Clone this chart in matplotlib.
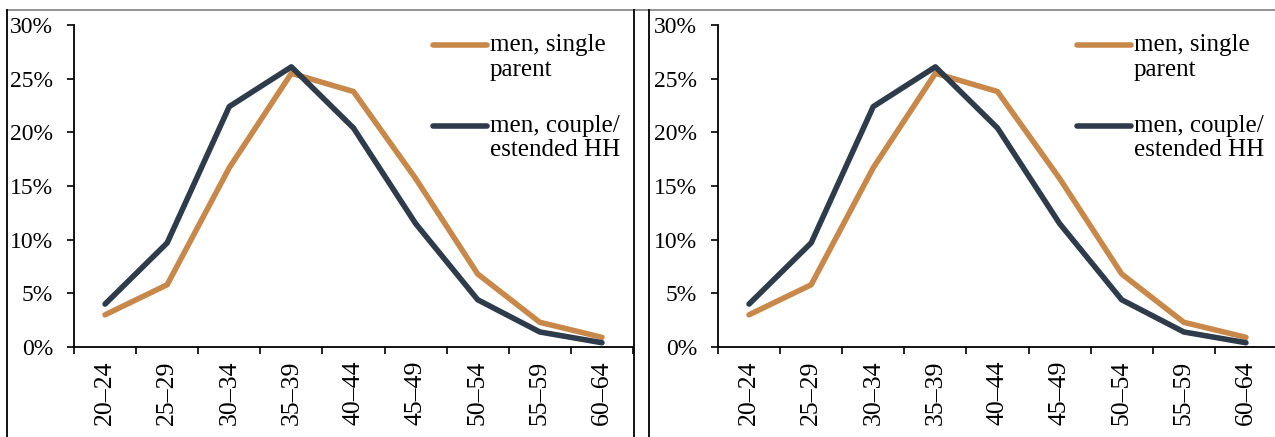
import matplotlib.pyplot as plt
from matplotlib.lines import Line2D
from matplotlib.ticker import FuncFormatter, FixedLocator, FixedFormatter

plt.rcParams['font.family'] = ['Liberation Serif', 'DejaVu Serif']

# --- Data (share of men by age group, %) ---
age_groups = ['20–24', '25–29', '30–34', '35–39', '40–44',
              '45–49', '50–54', '55–59', '60–64']
single_parent = [3.0, 5.8, 16.7, 25.5, 23.8, 15.7, 6.8, 2.3, 0.9]
couple_ext = [4.0, 9.7, 22.4, 26.1, 20.4, 11.5, 4.4, 1.4, 0.4]
label_single = 'men, single\nparent'
label_couple = 'men, couple/\nestended HH'

c_orange = '#C8884A'
c_dark = '#2D3B4B'

W, H = 1275, 437
fig = plt.figure(figsize=(W / 100, H / 100), dpi=100)

def px_rect(x0, x1, y_top, y_bot):
    return [x0 / W, 1 - y_bot / H, (x1 - x0) / W, (y_bot - y_top) / H]

def draw_panel(ax):
    x = list(range(len(age_groups)))
    ax.plot(x, single_parent, color=c_orange, lw=4, solid_capstyle='round')
    ax.plot(x, couple_ext, color=c_dark, lw=4, solid_capstyle='round')
    ax.set_xlim(-0.5, len(age_groups) - 0.5)
    ax.set_ylim(0, 30)
    ax.set_yticks(range(0, 31, 5))
    ax.yaxis.set_major_formatter(FuncFormatter(lambda v, p: f'{v:.0f}%'))
    # ticks between categories, labels at category centres
    ax.xaxis.set_major_locator(FixedLocator([i - 0.5 for i in range(len(age_groups) + 1)]))
    ax.xaxis.set_major_formatter(FuncFormatter(lambda v, p: ''))
    ax.xaxis.set_minor_locator(FixedLocator(x))
    ax.xaxis.set_minor_formatter(FixedFormatter(age_groups))
    ax.tick_params(axis='x', which='major', length=5, width=1.2, direction='out')
    ax.tick_params(axis='x', which='minor', length=0, pad=10,
                   labelsize=18.5, labelrotation=90)
    ax.tick_params(axis='y', length=5, width=1.2, direction='out', pad=10, labelsize=17)
    for s in ['top', 'right']:
        ax.spines[s].set_visible(False)
    for s in ['left', 'bottom']:
        ax.spines[s].set_linewidth(1.3)

    # legend, drawn by hand so the handle sits on the first text line
    for lab, col, yh, yt in [(label_single, c_orange, 0.938, 0.972),
                             (label_couple, c_dark, 0.686, 0.722)]:
        ax.add_line(Line2D([0.642, 0.739], [yh, yh], transform=ax.transAxes,
                           color=col, lw=4, solid_capstyle='round', clip_on=False))
        ax.text(0.744, yt, lab, transform=ax.transAxes, fontsize=18,
                va='top', ha='left', linespacing=1.15)

ax1 = fig.add_axes(px_rect(74, 633, 25, 347))
ax2 = fig.add_axes(px_rect(718, 1277, 25, 347))
draw_panel(ax1)
draw_panel(ax2)

# panel frames
fig.add_artist(Line2D([7 / W, 1], [1 - 10 / H] * 2, color='#808080', lw=1.2))
for xp in [7, 634, 649]:
    fig.add_artist(Line2D([xp / W] * 2, [0, 1 - 10 / H], color='black', lw=1.3))

fig.savefig('out.png', dpi=100)
